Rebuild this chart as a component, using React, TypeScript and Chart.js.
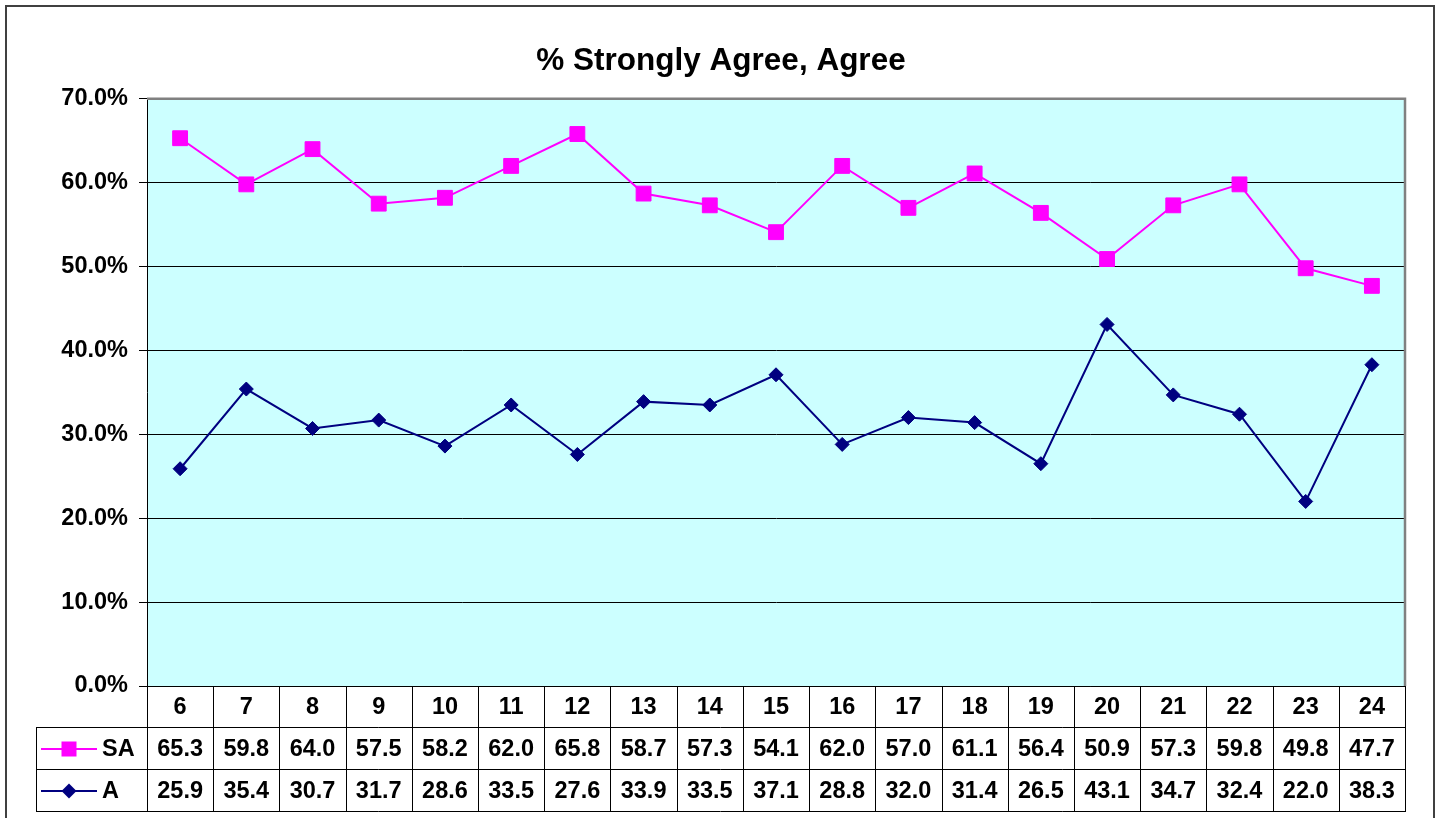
import React, { useEffect, useRef } from 'react';
import { Chart, registerables } from 'chart.js';

Chart.register(...registerables);

const titleText = '% Strongly Agree, Agree';
const categories = ['6', '7', '8', '9', '10', '11', '12', '13', '14', '15', '16', '17', '18', '19', '20', '21', '22', '23', '24'];
const seriesNames = ['SA', 'A'];
const saValues = [65.3, 59.8, 64.0, 57.5, 58.2, 62.0, 65.8, 58.7, 57.3, 54.1, 62.0, 57.0, 61.1, 56.4, 50.9, 57.3, 59.8, 49.8, 47.7];
const aValues = [25.9, 35.4, 30.7, 31.7, 28.6, 33.5, 27.6, 33.9, 33.5, 37.1, 28.8, 32.0, 31.4, 26.5, 43.1, 34.7, 32.4, 22.0, 38.3];
const yMin = 0;
const yMax = 70;
const yStep = 10;

const FONT = '"Liberation Sans", Arial, sans-serif';
const SA_COLOR = '#FF00FF';
const A_COLOR = '#000080';
const W = 1437;
const H = 818;

function drawSquare(ctx: CanvasRenderingContext2D, x: number, y: number, side: number, color: string) {
  ctx.fillStyle = color;
  ctx.fillRect(x - side / 2, y - side / 2, side, side);
}

function drawDiamond(ctx: CanvasRenderingContext2D, x: number, y: number, r: number, color: string) {
  ctx.fillStyle = color;
  ctx.beginPath();
  ctx.moveTo(x, y - r);
  ctx.lineTo(x + r, y);
  ctx.lineTo(x, y + r);
  ctx.lineTo(x - r, y);
  ctx.closePath();
  ctx.fill();
}

const framePlugin = {
  id: 'excelFrame',
  beforeDraw(chart: any) {
    const { ctx, chartArea: a } = chart;
    ctx.save();
    ctx.fillStyle = '#ffffff';
    ctx.fillRect(0, 0, chart.width, chart.height);
    ctx.fillStyle = '#CCFFFF';
    ctx.fillRect(a.left, a.top, a.right - a.left, a.bottom - a.top);
    ctx.strokeStyle = '#404040';
    ctx.lineWidth = 2;
    ctx.strokeRect(6, 6, chart.width - 9, chart.height + 20);
    ctx.restore();
  },
  afterDraw(chart: any) {
    const { ctx, chartArea: a } = chart;
    const xs = chart.scales.x;
    const n = categories.length;
    const colW = (a.right - a.left) / n;
    const rowH = 42;
    const top = a.bottom;
    const tableLeft = 36;
    ctx.save();
    // plot area grey border (top, right)
    ctx.strokeStyle = '#808080';
    ctx.lineWidth = 2.5;
    ctx.beginPath();
    ctx.moveTo(a.left, a.top);
    ctx.lineTo(a.right, a.top);
    ctx.lineTo(a.right, a.bottom);
    ctx.stroke();

    // table grid
    ctx.strokeStyle = '#000000';
    ctx.lineWidth = 1;
    ctx.beginPath();
    ctx.moveTo(a.left, Math.round(top) + 0.5);
    ctx.lineTo(a.right, Math.round(top) + 0.5);
    for (let r = 1; r <= 3; r++) {
      const y = Math.round(top + r * rowH) - 0.5;
      ctx.moveTo(tableLeft, y);
      ctx.lineTo(a.right, y);
    }
    ctx.moveTo(tableLeft + 0.5, top + rowH);
    ctx.lineTo(tableLeft + 0.5, top + 3 * rowH);
    for (let i = 0; i <= n; i++) {
      const x = Math.round(a.left + i * colW) + 0.5;
      ctx.moveTo(x, top);
      ctx.lineTo(x, top + 3 * rowH);
    }
    ctx.stroke();

    // texts
    ctx.fillStyle = '#000000';
    ctx.font = `bold 23.5px ${FONT}`;
    ctx.textAlign = 'center';
    ctx.textBaseline = 'middle';
    const rows = [categories, saValues.map((v) => v.toFixed(1)), aValues.map((v) => v.toFixed(1))];
    rows.forEach((row, r) => {
      const cy = top + r * rowH + rowH / 2 + 1;
      row.forEach((t, i) => {
        ctx.fillStyle = '#000000';
        ctx.fillText(String(t), xs.getPixelForValue(i), cy);
      });
    });

    // legend keys
    const keys = [
      { name: seriesNames[0], color: SA_COLOR, kind: 'square' },
      { name: seriesNames[1], color: A_COLOR, kind: 'diamond' },
    ];
    keys.forEach((k, idx) => {
      const cy = top + (idx + 1) * rowH + rowH / 2;
      ctx.strokeStyle = k.color;
      ctx.lineWidth = 2;
      ctx.beginPath();
      ctx.moveTo(41, cy);
      ctx.lineTo(97, cy);
      ctx.stroke();
      if (k.kind === 'square') drawSquare(ctx, 69, cy, 15, k.color);
      else drawDiamond(ctx, 69, cy, 7.5, k.color);
      ctx.fillStyle = '#000000';
      ctx.textAlign = 'left';
      ctx.fillText(k.name, 102, cy + 1);
    });
    ctx.restore();
  },
};

export default function App() {
  const ref = useRef<HTMLCanvasElement | null>(null);
  useEffect(() => {
    if (!ref.current) return;
    Chart.defaults.font.family = FONT;
    const chart = new Chart(ref.current, {
      type: 'line',
      data: {
        labels: categories,
        datasets: [
          {
            label: seriesNames[0],
            data: saValues,
            borderColor: SA_COLOR,
            backgroundColor: SA_COLOR,
            borderWidth: 2,
            pointStyle: 'rect',
            pointRadius: 10.5,
            pointBorderWidth: 1,
            pointBackgroundColor: SA_COLOR,
            pointBorderColor: SA_COLOR,
            tension: 0,
          },
          {
            label: seriesNames[1],
            data: aValues,
            borderColor: A_COLOR,
            backgroundColor: A_COLOR,
            borderWidth: 2,
            pointStyle: 'rectRot',
            pointRadius: 7,
            pointBorderWidth: 1,
            pointBackgroundColor: A_COLOR,
            pointBorderColor: A_COLOR,
            tension: 0,
          },
        ],
      },
      options: {
        responsive: false,
        animation: false,
        layout: { padding: { left: 37, right: 32, top: 0, bottom: 132 } },
        plugins: {
          legend: { display: false },
          tooltip: { enabled: false },
          title: {
            display: true,
            text: titleText,
            color: '#000000',
            font: { family: FONT, size: 31.5, weight: 'bold', lineHeight: 1.2 },
            padding: { top: 42, bottom: 19 },
          },
        },
        scales: {
          x: {
            type: 'category',
            offset: true,
            display: false,
          },
          y: {
            min: yMin,
            max: yMax,
            afterFit: (scale: any) => {
              scale.width = 110;
            },
            ticks: {
              stepSize: yStep,
              padding: 11,
              color: '#000000',
              font: { family: FONT, size: 23.5, weight: 'bold' },
              callback: (v: any) => Number(v).toFixed(1) + '%',
            },
            grid: {
              color: '#000000',
              lineWidth: 1,
              tickLength: 8,
              tickColor: '#000000',
              drawTicks: true,
            },
            border: { display: true, color: '#000000', width: 1 },
          },
        },
      },
      plugins: [framePlugin],
    });
    return () => chart.destroy();
  }, []);
  return (
    <div style={{ position: 'absolute', left: 0, top: 0, width: W, height: H }}>
      <canvas ref={ref} width={W} height={H} style={{ display: 'block' }} />
    </div>
  );
}
